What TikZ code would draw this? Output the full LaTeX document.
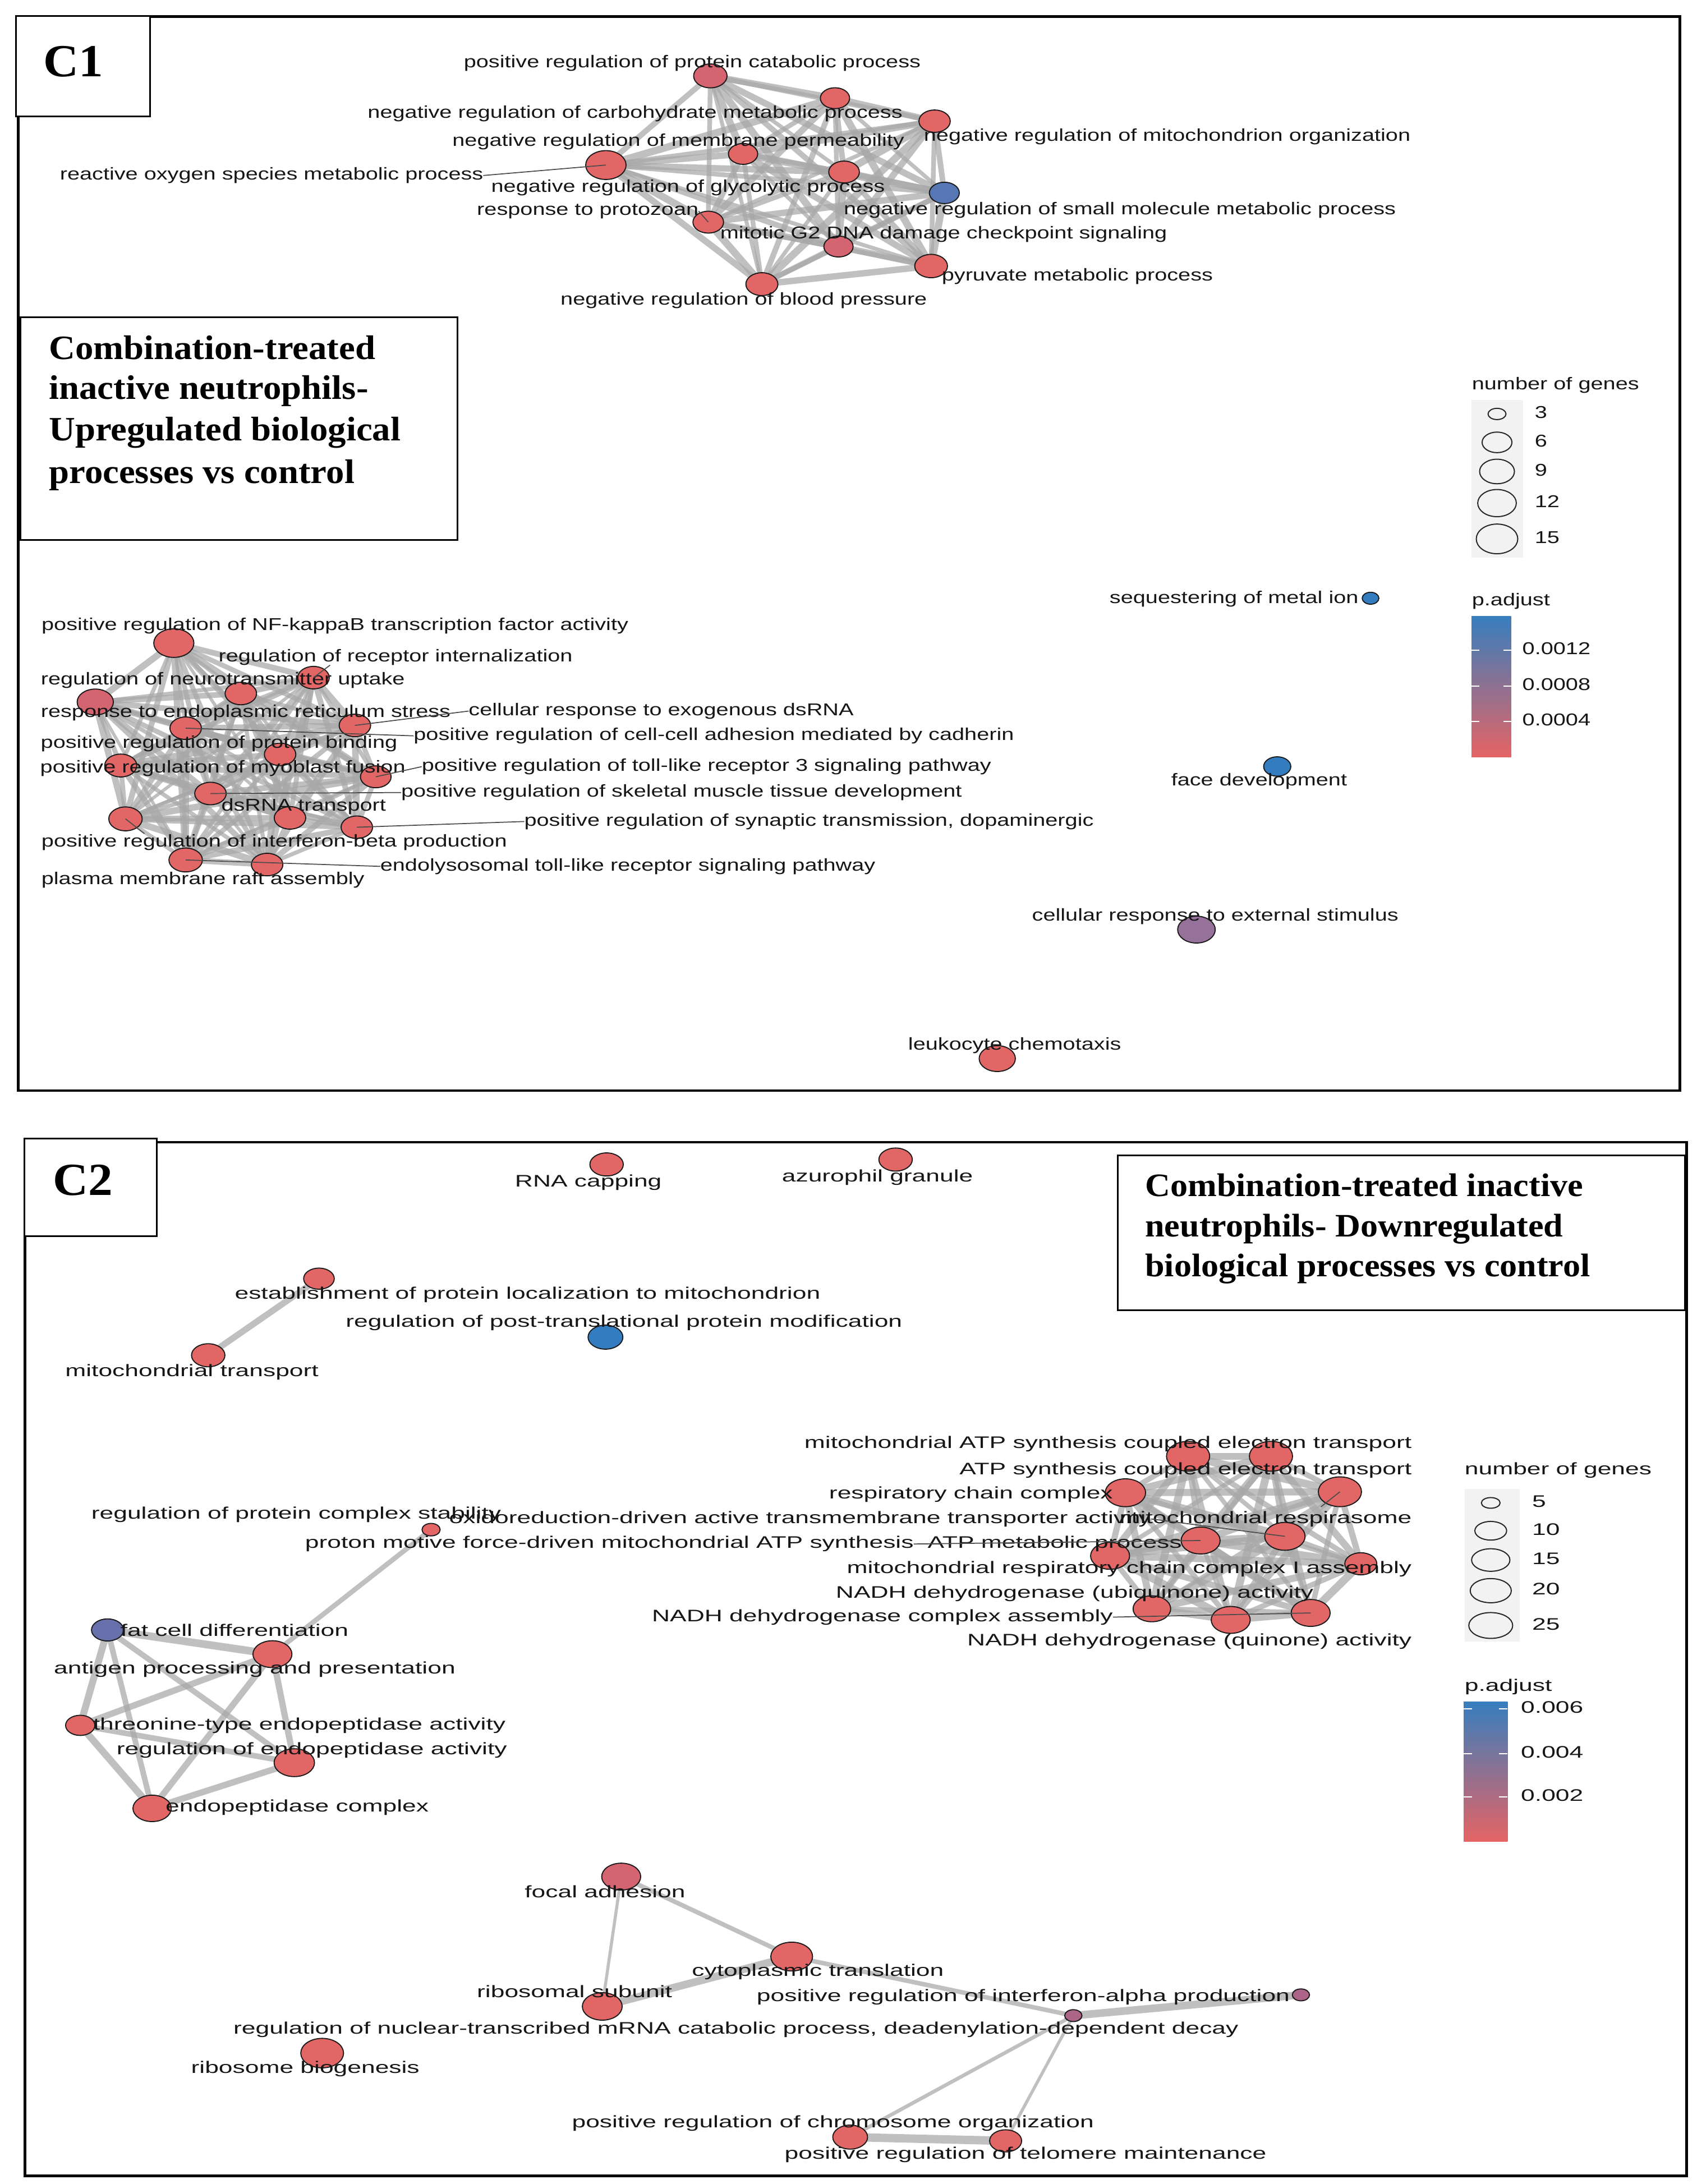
\documentclass[tikz,border=0pt]{standalone}
\usepackage{fontspec}
\setmainfont{Liberation Sans}
\newfontfamily\lfa[FakeStretch=1.3]{Liberation Sans}
\newfontfamily\lfb[FakeStretch=1.49]{Liberation Sans}
\newfontfamily\ttlf[FakeStretch=1.065]{Liberation Serif}
\usetikzlibrary{shapes.geometric,backgrounds}
\definecolor{nred}{RGB}{226,102,102}
\definecolor{nrose}{RGB}{212,100,112}
\definecolor{nblue}{RGB}{52,124,192}
\definecolor{nslate}{RGB}{86,118,180}
\definecolor{npurp}{RGB}{150,114,155}
\definecolor{nfat}{RGB}{104,112,172}
\definecolor{nmauve}{RGB}{172,100,136}
\definecolor{egray}{RGB}{168,168,168}
\definecolor{txt}{RGB}{22,22,22}
\definecolor{cbtop}{RGB}{55,126,190}
\definecolor{cbmid}{RGB}{150,112,150}
\definecolor{cbbot}{RGB}{229,100,100}
\definecolor{keybg}{RGB}{242,242,242}
\tikzset{
  gn/.style={ellipse, draw=black!90, line width=0.75pt, fill=#1, inner sep=0pt, outer sep=0pt},
  lnk/.style={draw=egray, opacity=0.72, line cap=round},
  ldr/.style={draw=black!70, line width=0.7pt},
  la/.style={font=\lfa\fontsize{12.3}{14}\selectfont, text=txt, inner sep=0pt, outer sep=0pt, text height=8.8pt, text depth=2.6pt},
  lb/.style={font=\lfb\fontsize{12}{14}\selectfont, text=txt, inner sep=0pt, outer sep=0pt, text height=8.6pt, text depth=2.5pt},
  keyc/.style={ellipse, draw=black!85, line width=0.8pt, inner sep=0pt, outer sep=0pt},
  ttla/.style={font=\ttlf\bfseries\fontsize{24.5}{30}\selectfont, inner sep=0pt, anchor=base west},
  ttlb/.style={font=\ttlf\bfseries\fontsize{23.5}{29}\selectfont, inner sep=0pt, anchor=base west},
  panel/.style={font=\ttlf\bfseries\fontsize{33}{33}\selectfont, inner sep=0pt, anchor=base},
  frm/.style={draw=black, line width=1.9pt},
  boxw/.style={draw=black, line width=1.2pt, fill=white},
  tick/.style={draw=white, line width=0.8pt}
}
\newcommand\GN[6]{\pgfmathsetmacro\gnh{#4/#6}\node[gn=#5, minimum width=#4pt, minimum height=\gnh pt] (#1) at (#2,#3) {};}
\newcommand\KE[6]{\pgfmathsetmacro\gnh{#4/#6}\node[keyc, fill=#5, minimum width=#4pt, minimum height=\gnh pt] (#1) at (#2,#3) {};}
\newcommand\Kgraph[2]{\foreach \a [count=\i] in {#1}{\foreach \b [count=\j] in {#1}{\ifnum\j>\i\relax\pgfmathsetmacro\w{#2+mod(\i*7+\j*3,5)*0.6}\draw[lnk, line width=\w pt] (\a) -- (\b);\fi}}}
\begin{document}
\begin{tikzpicture}[x=1pt,y=-1pt]
\useasboundingbox (0,0) rectangle (1218,1568);
% ================= frames =================
\draw[frm] (13,12) rectangle (1206,783);
\draw[frm] (18,820) rectangle (1211,1562);
\node[boxw, minimum width=96pt, minimum height=72pt, anchor=north west] (c1box) at (11,11) {};
\node[panel] (c1lab) at (52.5,55) {C1};
\node[boxw, minimum width=314pt, minimum height=160pt, anchor=north west] (t1box) at (14,227) {};
\node[ttla] (t1a) at (35,258) {Combination-treated};
\node[ttla] (t1b) at (35,286.5) {inactive neutrophils-};
\node[ttla] (t1c) at (35,316.5) {Upregulated biological};
\node[ttla] (t1d) at (35,347) {processes vs control};
\node[boxw, minimum width=95pt, minimum height=70pt, anchor=north west] (c2box) at (17,817) {};
\node[panel] (c2lab) at (59.5,858) {C2};
\node[boxw, minimum width=407pt, minimum height=111pt, anchor=north west] (t2box) at (802,829) {};
\node[ttlb] (t2a) at (822,859) {Combination-treated inactive};
\node[ttlb] (t2b) at (822,888) {neutrophils- Downregulated};
\node[ttlb] (t2c) at (822,916.5) {biological processes vs control};
% ================= C1 top cluster =================
\GN{pc}{510}{54.5}{24}{nrose}{1.4}
\GN{ch}{599.5}{70.5}{21}{nred}{1.4}
\GN{mo}{671}{87}{22.5}{nred}{1.4}
\GN{mp}{533.5}{110.5}{21}{nred}{1.4}
\GN{ro}{435}{118.5}{29}{nred}{1.4}
\GN{gl}{606}{123.5}{22}{nred}{1.4}
\GN{sm}{678}{138.5}{21.5}{nslate}{1.4}
\GN{pz}{508.5}{159.5}{22}{nred}{1.4}
\GN{mg}{602}{177}{21}{nrose}{1.4}
\GN{pv}{668.5}{191}{23.5}{nred}{1.4}
\GN{bp}{547}{204}{23}{nred}{1.4}
% ================= C1 bottom cluster =================
\GN{nf}{124.8}{461.7}{28.8}{nred}{1.4}
\GN{ri}{225.1}{486.5}{22.6}{nred}{1.4}
\GN{nt}{172.9}{497.9}{22.6}{nred}{1.4}
\GN{er}{68.4}{504}{26}{nrose}{1.4}
\GN{cd}{254.8}{520.8}{22.6}{nred}{1.4}
\GN{ca}{133.3}{522.8}{22.6}{nred}{1.4}
\GN{pb}{201.1}{541.6}{22.6}{nred}{1.4}
\GN{mf}{86.7}{549.6}{23}{nred}{1.4}
\GN{tl}{269.8}{557.7}{22}{nred}{1.4}
\GN{sk}{151.1}{569.7}{22.6}{nred}{1.4}
\GN{dt}{208.2}{587.2}{22.6}{nred}{1.4}
\GN{ib}{90.1}{587.9}{24}{nred}{1.4}
\GN{sy}{256.2}{593.9}{22.6}{nred}{1.4}
\GN{el}{133.3}{617.4}{24}{nred}{1.4}
\GN{pr}{191.8}{620.7}{22.6}{nred}{1.4}
% ================= C1 isolated =================
\GN{sq}{984}{429.5}{12}{nblue}{1.4}
\GN{fd}{917}{550.3}{19.5}{nblue}{1.4}
\GN{cr}{859}{667.4}{27}{npurp}{1.4}
\GN{lc}{716}{760}{26}{nred}{1.4}
% ================= C2 nodes =================
\GN{rc}{435.5}{836}{24}{nred}{1.45}
\GN{az}{643}{832.5}{24}{nred}{1.45}
\GN{es}{229}{918}{22}{nred}{1.45}
\GN{mt}{149.5}{973}{24}{nred}{1.45}
\GN{pt}{434.7}{960}{25}{nblue}{1.45}
\GN{q1}{853}{1045.5}{31}{nred}{1.45}
\GN{q2}{912.5}{1045.5}{31}{nred}{1.45}
\GN{q3}{808}{1071.7}{29}{nred}{1.45}
\GN{q4}{962}{1071}{31}{nred}{1.45}
\GN{q5}{862}{1106}{28}{nred}{1.45}
\GN{q6}{922.5}{1103}{29}{nred}{1.45}
\GN{q7}{797}{1117}{28}{nred}{1.45}
\GN{q8}{977}{1122.7}{23}{nred}{1.45}
\GN{q9}{827}{1155}{27}{nred}{1.45}
\GN{q10}{883.6}{1163}{28}{nred}{1.45}
\GN{q11}{941}{1158}{28}{nred}{1.45}
\GN{st}{309.5}{1098.2}{13}{nred}{1.45}
\GN{fc}{77.2}{1170.2}{23}{nfat}{1.45}
\GN{ap}{195.6}{1187.6}{28}{nred}{1.45}
\GN{th}{57.6}{1238.7}{21}{nred}{1.45}
\GN{re}{211.3}{1265.5}{29}{nred}{1.45}
\GN{ec}{109.2}{1298.3}{27.5}{nred}{1.45}
\GN{fa}{446}{1347.3}{28}{nrose}{1.45}
\GN{ct}{568.4}{1404.7}{30}{nred}{1.45}
\GN{rs}{432.4}{1440.5}{28.6}{nred}{1.45}
\GN{ia}{934}{1432.2}{12.4}{nmauve}{1.45}
\GN{dd}{770.6}{1447.1}{12.4}{nmauve}{1.45}
\GN{rb}{231.3}{1474}{30.7}{nred}{1.45}
\GN{co}{610.4}{1534.3}{25}{nred}{1.45}
\GN{tm}{722}{1537}{23}{nred}{1.45}
% ================= edges (background) =================
\begin{pgfonlayer}{background}
\fill[white] (0,0) rectangle (1218,1568);
\Kgraph{pc,ch,mo,mp,ro,gl,sm,pz,mg,pv,bp}{2.8}
\Kgraph{nf,ri,nt,er,cd,ca,pb,mf,tl,sk,dt,ib,sy,el,pr}{2.3}
\Kgraph{q1,q2,q3,q4,q5,q6,q7,q8,q9,q10,q11}{3.2}
\draw[lnk, line width=4.5pt] (es) -- (mt);
\draw[lnk, line width=3.5pt] (st) -- (ap);
\foreach \a/\b/\w in {fc/ap/5.5, fc/th/5, fc/re/4, fc/ec/4, ap/th/4.5, ap/re/4.5, ap/ec/4.5, th/re/4, th/ec/5, re/ec/4.5}
  \draw[lnk, line width=\w pt] (\a) -- (\b);
\foreach \a/\b/\w in {fa/rs/2.2, fa/ct/3.2, ct/rs/5.5, ct/dd/3.2, dd/ia/5.5, dd/co/2.6, dd/tm/2.2, co/tm/6}
  \draw[lnk, line width=\w pt] (\a) -- (\b);
\end{pgfonlayer}
% ================= C1 labels =================
\node[la] (pcL) at (497,45.5) {positive regulation of protein catabolic process};
\node[la] (chL) at (456,81.5) {negative regulation of carbohydrate metabolic process};
\node[la] (moL) at (838,98) {negative regulation of mitochondrion organization};
\node[la] (mpL) at (487,102) {negative regulation of membrane permeability};
\node[la] (roL) at (195,126) {reactive oxygen species metabolic process};
\node[la] (glL) at (494,135) {negative regulation of glycolytic process};
\node[la] (smL) at (804,151) {negative regulation of small molecule metabolic process};
\node[la] (pzL) at (422,151.5) {response to protozoan};
\node[la] (mgL) at (677.5,168.4) {mitotic G2 DNA damage checkpoint signaling};
\node[la] (pvL) at (773.5,198.6) {pyruvate metabolic process};
\node[la] (bpL) at (534,216) {negative regulation of blood pressure};
\node[la] (nfL) at (240.5,449.6) {positive regulation of NF-kappaB transcription factor activity};
\node[la] (riL) at (284,471.8) {regulation of receptor internalization};
\node[la] (ntL) at (160,488.3) {regulation of neurotransmitter uptake};
\node[la] (erL) at (176.4,512) {response to endoplasmic reticulum stress};
\node[la, anchor=west] (cdL) at (336.5,510.5) {cellular response to exogenous dsRNA};
\node[la, anchor=west] (caL) at (297,528.3) {positive regulation of cell-cell adhesion mediated by cadherin};
\node[la] (pbL) at (157.3,534) {positive regulation of protein binding};
\node[la] (mfL) at (160,551.6) {positive regulation of myoblast fusion};
\node[la, anchor=west] (tlL) at (302.8,550.4) {positive regulation of toll-like receptor 3 signaling pathway};
\node[la, anchor=west] (skL) at (288,569) {positive regulation of skeletal muscle tissue development};
\node[la] (dtL) at (218,579) {dsRNA transport};
\node[la, anchor=west] (syL) at (376.4,589.8) {positive regulation of synaptic transmission, dopaminergic};
\node[la] (ibL) at (196.9,605) {positive regulation of interferon-beta production};
\node[la, anchor=west] (elL) at (273,622) {endolysosomal toll-like receptor signaling pathway};
\node[la] (prL) at (145.7,632) {plasma membrane raft assembly};
\node[la] (sqL) at (886,430) {sequestering of metal ion};
\node[la] (fdL) at (904,561) {face development};
\node[la] (crL) at (872.5,658) {cellular response to external stimulus};
\node[la] (lcL) at (728.5,750.5) {leukocyte chemotaxis};
% leaders C1
\coordinate (riT) at (237,477.5);
\coordinate (ibT) at (103.7,598.5);
\draw[ldr] (roL.east) -- (ro.center);
\draw[ldr] (pzL.east) -- (pz.center);
\draw[ldr] (ri.center) -- (riT);
\draw[ldr] (cdL.west) -- (cd.center);
\draw[ldr] (ca.center) -- (caL.west);
\draw[ldr] (tl.center) -- (tlL.west);
\draw[ldr] (sk.center) -- (skL.west);
\draw[ldr] (sy.center) -- (syL.west);
\draw[ldr] (ib.center) -- (ibT);
\draw[ldr] (el.center) -- (elL.west);
% ================= C1 legend =================
\fill[keybg] (1056.5,287.1) rectangle (1093.5,400.2);
\node[la, anchor=west] (k1t) at (1056.8,276.7) {number of genes};
\KE{k1a}{1074.8}{297.2}{12.9}{keybg}{1.6}
\KE{k1b}{1074.8}{317.6}{21.4}{keybg}{1.45}
\KE{k1c}{1074.8}{338.5}{25}{keybg}{1.42}
\KE{k1d}{1074.8}{361.2}{27.7}{keybg}{1.42}
\KE{k1e}{1074.8}{386.9}{29.8}{keybg}{1.4}
\node[la, anchor=west] (k1al) at (1101.9,297.2) {3};
\node[la, anchor=west] (k1bl) at (1101.9,317.6) {6};
\node[la, anchor=west] (k1cl) at (1101.9,338.5) {9};
\node[la, anchor=west] (k1dl) at (1101.9,361.2) {12};
\node[la, anchor=west] (k1el) at (1101.9,386.9) {15};
\node[la, anchor=west] (p1t) at (1056.8,431.6) {p.adjust};
\shade[top color=cbtop, middle color=cbmid, bottom color=cbbot] (1056.5,442.4) rectangle (1084.9,543.7);
\foreach \yy in {466.7,492.4,518} {
  \draw[tick] (1056.5,\yy) -- (1062,\yy);
  \draw[tick] (1079.4,\yy) -- (1084.9,\yy);
}
\node[la, anchor=west] (p1a) at (1093,466.7) {0.0012};
\node[la, anchor=west] (p1b) at (1093,492.4) {0.0008};
\node[la, anchor=west] (p1c) at (1093,518) {0.0004};
% ================= C2 labels =================
\node[lb] (rcL) at (422.4,849) {RNA capping};
\node[lb] (azL) at (630,845.5) {azurophil granule};
\node[lb] (esL) at (378.8,929.4) {establishment of protein localization to mitochondrion};
\node[lb] (ptL) at (448,949.6) {regulation of post-translational protein modification};
\node[lb] (mtL) at (137.8,985) {mitochondrial transport};
\node[lb, anchor=west] (stL) at (65.6,1087.5) {regulation of protein complex stability};
\node[lb, anchor=west] (oxL) at (322.5,1090.5) {oxidoreduction-driven active transmembrane transporter activity};
\node[lb, anchor=east] (q1L) at (1013.5,1036.8) {mitochondrial ATP synthesis coupled electron transport};
\node[lb, anchor=east] (q2L) at (1013.5,1055.6) {ATP synthesis coupled electron transport};
\node[lb, anchor=east] (q3L) at (799,1073) {respiratory chain complex};
\node[lb, anchor=east] (q4L) at (1013.5,1090.5) {mitochondrial respirasome};
\node[lb, anchor=east] (pmL) at (656,1108.5) {proton motive force-driven mitochondrial ATP synthesis};
\node[lb, anchor=west] (q5L) at (666,1108.5) {ATP metabolic process};
\node[lb, anchor=east] (q8L) at (1013.5,1126.7) {mitochondrial respiratory chain complex I assembly};
\node[lb, anchor=east] (q9L) at (943,1144.2) {NADH dehydrogenase (ubiquinone) activity};
\node[lb, anchor=east] (ncL) at (799,1161) {NADH dehydrogenase complex assembly};
\node[lb, anchor=east] (q10L) at (1013.5,1178.4) {NADH dehydrogenase (quinone) activity};
\node[lb, anchor=west] (fcL) at (86.5,1171.8) {fat cell differentiation};
\node[lb, anchor=east] (apL) at (327,1198.6) {antigen processing and presentation};
\node[lb, anchor=west] (thL) at (66.8,1238.7) {threonine-type endopeptidase activity};
\node[lb, anchor=east] (reL) at (364,1256.7) {regulation of endopeptidase activity};
\node[lb, anchor=west] (ecL) at (118.9,1297.5) {endopeptidase complex};
\node[lb] (faL) at (434.4,1359.2) {focal adhesion};
\node[lb] (ctL) at (587.2,1415.9) {cytoplasmic translation};
\node[lb] (rsL) at (412.5,1431.2) {ribosomal subunit};
\node[lb, anchor=east] (iaL) at (926,1433.7) {positive regulation of interferon-alpha production};
\node[lb] (ddL) at (528.4,1457.2) {regulation of nuclear-transcribed mRNA catabolic process, deadenylation-dependent decay};
\node[lb] (rbL) at (219.2,1485.2) {ribosome biogenesis};
\node[lb] (coL) at (598,1524.6) {positive regulation of chromosome organization};
\node[lb] (tmL) at (736.3,1547) {positive regulation of telomere maintenance};
% leaders C2
\coordinate (q4T) at (948.4,1081.8);
\draw[ldr] (q4.center) -- (q4T);
\draw[ldr] (oxL.east) -- (q6.center);
\draw[ldr] (pmL.east) -- (q5.center);
\draw[ldr] (ncL.east) -- (q11.center);
% ================= C2 legend =================
\fill[keybg] (1051.6,1068.8) rectangle (1091.2,1178.4);
\node[lb, anchor=west] (k2t) at (1051.6,1055.5) {number of genes};
\KE{k2a}{1070.3}{1079}{13.4}{keybg}{1.75}
\KE{k2b}{1070.3}{1099}{22.8}{keybg}{1.7}
\KE{k2c}{1070.3}{1120}{27.5}{keybg}{1.7}
\KE{k2d}{1070.3}{1142}{29.5}{keybg}{1.7}
\KE{k2e}{1070.3}{1167}{31.5}{keybg}{1.7}
\node[lb, anchor=west] (k2al) at (1100,1079) {5};
\node[lb, anchor=west] (k2bl) at (1100,1099) {10};
\node[lb, anchor=west] (k2cl) at (1100,1120) {15};
\node[lb, anchor=west] (k2dl) at (1100,1142) {20};
\node[lb, anchor=west] (k2el) at (1100,1167) {25};
\node[lb, anchor=west] (p2t) at (1051.6,1211) {p.adjust};
\shade[top color=cbtop, middle color=cbmid, bottom color=cbbot] (1050.9,1221.7) rectangle (1082.4,1322);
\foreach \yy in {1227,1259,1290} {
  \draw[tick] (1050.9,\yy) -- (1057,\yy);
  \draw[tick] (1076.3,\yy) -- (1082.4,\yy);
}
\node[lb, anchor=west] (p2a) at (1092,1227) {0.006};
\node[lb, anchor=west] (p2b) at (1092,1259) {0.004};
\node[lb, anchor=west] (p2c) at (1092,1290) {0.002};
\end{tikzpicture}
\end{document}
